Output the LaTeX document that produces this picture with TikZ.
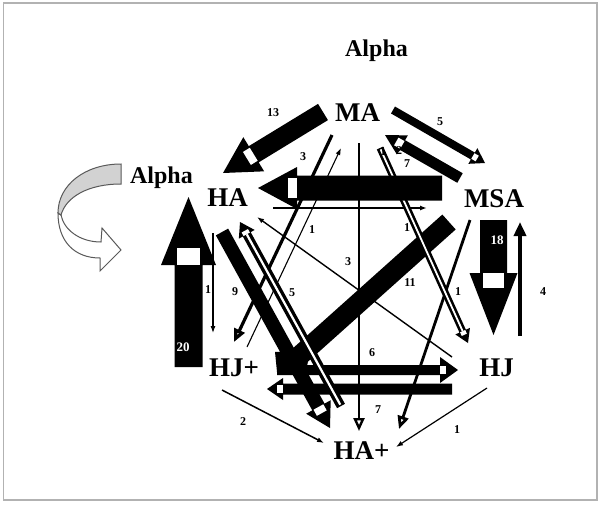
\documentclass[tikz,border=0pt]{standalone}
\usepackage{fontspec}
\setmainfont{Liberation Serif}
\usetikzlibrary{calc,arrows.meta}
% fat block arrow: #1 start, #2 tip, #3 half shaft, #4 half head, #5 head length, #6 white notch length
\newcommand\fatarr[6]{%
  \coordinate (fa-hb) at ($(#2)!#5pt!(#1)$);
  \coordinate (fa-wb) at ($(fa-hb)!#6pt!(#2)$);
  \pgfmathsetmacro\fawr{#3*0.8}%
  \fill[black] ($(#1)!#3pt!90:(#2)$) -- ($(fa-hb)!#3pt!90:(#2)$) -- ($(fa-hb)!#4pt!90:(#2)$) -- (#2)
     -- ($(fa-hb)!#4pt!-90:(#2)$) -- ($(fa-hb)!#3pt!-90:(#2)$) -- ($(#1)!#3pt!-90:(#2)$) -- cycle;
  \fill[white] ($(fa-hb)!\fawr pt!90:(#2)$) -- ($(fa-wb)!\fawr pt!90:(#2)$) -- ($(fa-wb)!\fawr pt!-90:(#2)$) -- ($(fa-hb)!\fawr pt!-90:(#2)$) -- cycle;
}
\begin{document}
\begin{tikzpicture}[x=1pt,y=-1pt,
  lbl/.style={font=\bfseries\fontsize{27}{27}\selectfont, inner sep=0pt, anchor=base},
  ttl/.style={font=\bfseries\fontsize{24}{24}\selectfont, inner sep=0pt, anchor=base},
  num/.style={font=\bfseries\fontsize{12}{12}\selectfont, inner sep=0pt},
  wnum/.style={num, text=white, font=\bfseries\fontsize{13}{13}\selectfont},
  thin/.style={draw=black, line width=1.3pt, -{Latex[length=7pt,width=5pt]}},
  opn/.style={draw=black, -{Triangle[open,length=13pt,width=11pt]}},
  curv/.style={draw=gray!70!black, line width=1pt}]
\useasboundingbox (0,0) rectangle (601,504);
\fill[white] (0,0) rectangle (601,504);
\draw[gray!60, line width=1.5pt] (3.5,3) rectangle (597,500);

% names
\node[ttl] (title) at (376.5,56) {Alpha};
\node[ttl] (alpha) at (161.5,183) {Alpha};
\node[lbl] (MA) at (357.5,121) {MA};
\node[lbl] (HA) at (227.5,206) {HA};
\node[lbl] (MSA) at (494,207) {MSA};
\node[lbl] (HJp) at (234,376) {HJ+};
\node[lbl] (HJ) at (496.5,376) {HJ};
\begin{scope}
\clip (0,0) rectangle (601,461);
\node[lbl] (HAp) at (361.5,459) {HA+};
\end{scope}

% curved arrow
\draw[curv, fill=white] (58,213) .. controls (58,242) and (75,258) .. (100,258) -- (100,271) -- (121,250) -- (102,228) -- (101,242) .. controls (80,242) and (64,230) .. (61,215) -- cycle;
\draw[curv, fill=gray!35] (121,164) .. controls (85,164) and (58,185) .. (58,213) -- (61,215) .. controls (66,197) and (88,184) .. (121,184) -- cycle;

% coordinates
\coordinate (hamS) at (273,208);  \coordinate (hamT) at (427,208);
\coordinate (vS) at (359,143);    \coordinate (vT) at (359,431);
\coordinate (mhS) at (332,135);   \coordinate (mhT) at (234,342);
\coordinate (hmS) at (247,347);   \coordinate (hmT) at (341,148);
\coordinate (hhS) at (213,233);   \coordinate (hhT) at (213,333);
\coordinate (jmS) at (520,336);   \coordinate (jmT) at (520,222);
\coordinate (mhpS) at (470,220);  \coordinate (mhpT) at (399,429);
\coordinate (jaS) at (452,357);   \coordinate (jaT) at (257,217);
\coordinate (jpS) at (222,390);   \coordinate (jpT) at (324,443);
\coordinate (jhS) at (487,388);   \coordinate (jhT) at (396,447);
\coordinate (sixS) at (277,370);  \coordinate (sixT) at (458,370);
\coordinate (svnS) at (452,389);  \coordinate (svnT) at (267,389);
\coordinate (bandS) at (449,222); \coordinate (bandT) at (297,358);
\coordinate (nineS) at (222,232); \coordinate (nineT) at (330,428);
\coordinate (fiveS) at (341,406); \coordinate (fiveT) at (240,222);
\coordinate (elS) at (380,148);   \coordinate (elT) at (468,343);
\coordinate (bigS) at (442,188);  \coordinate (bigT) at (258,188);
\coordinate (tS) at (323,112);    \coordinate (tT) at (223,173);
\coordinate (mmS) at (393,110);   \coordinate (mmT) at (485,163);
\coordinate (smS) at (460,178);   \coordinate (smT) at (385,135);
\coordinate (twS) at (188.5,367); \coordinate (twT) at (188.5,197);
\coordinate (etS) at (493.5,220); \coordinate (etT) at (493.5,335);

% thin connectors
\draw[thin, line width=1.5pt] (hamS) -- (hamT);
\draw[thin, line width=1.1pt] (hmS) -- (hmT);
\draw[thin, line width=1.1pt] (hhS) -- (hhT);
\draw[thin, line width=1.4pt] (jaS) -- (jaT);
\draw[thin, line width=1.5pt] (jpS) -- (jpT);
\draw[thin, line width=1.2pt] (jhS) -- (jhT);
\draw[line width=3.5pt, -{Triangle[length=14pt,width=12pt]}] (jmS) -- (jmT);
\draw[opn, line width=2.4pt] (vS) -- (vT);
\draw[opn, line width=3.2pt] (mhS) -- (mhT);
\draw[opn, line width=2.8pt] (mhpS) -- (mhpT);

% horizontal bars 6 and 7
\fatarr{sixS}{sixT}{5}{13}{18}{6}
\fatarr{svnS}{svnT}{5.5}{11}{16}{6}
% heavy band MSA to HJ+
\draw[black, line width=20pt] (bandS) -- (bandT);
\fill[black] (275,352) -- (310,350) -- (306,372) -- (277,372) -- cycle;
% HA to HA+
\fatarr{nineS}{nineT}{7}{14}{24}{7}
% hollow HA+ to HA
\fatarr{fiveS}{fiveT}{4.5}{9}{14}{4}
\draw[white, line width=2.2pt] ($(fiveS)!1.5pt!(fiveT)$) -- (fa-hb);
% hollow MA to HJ
\fatarr{elS}{elT}{3.5}{8}{13}{4}
\draw[white, line width=1.8pt] ($(elS)!1.5pt!(elT)$) -- (fa-hb);
% big MSA to HA
\fatarr{bigS}{bigT}{12.5}{21}{39}{9}
% MA to HA (13)
\fatarr{tS}{tT}{9.5}{20}{36}{8}
% MA to MSA (5)
\fatarr{mmS}{mmT}{4}{9}{14}{5}
% MSA to MA
\fatarr{smS}{smT}{5.5}{11}{20}{7}
% HJ+ to HA (20)
\fatarr{twS}{twT}{14}{27.5}{68}{17}
% MSA to HJ (18)
\fatarr{etS}{etT}{13.5}{24}{62}{15}

% numbers
\node[num] (n13) at (273,113) {13};
\node[num] (n5a) at (440,122) {5};
\node[num] (n3a) at (303,157) {3};
\node[num] (n1a) at (383,152) {1};
\node[num] (n2a) at (399,151) {2};
\node[num] (n7a) at (407,164) {7};
\node[num] (n1b) at (312,230) {1};
\node[num] (n1c) at (407,228) {1};
\node[num] (n1d) at (208,290) {1};
\node[num] (n9) at (235,292) {9};
\node[num] (n5b) at (292,293) {5};
\node[num] (n3b) at (348,262) {3};
\node[num] (n11) at (410,283) {11};
\node[num] (n1e) at (458,292) {1};
\node[num] (n4) at (543,292) {4};
\node[num] (n6) at (372,353) {6};
\node[num] (n7b) at (378,410) {7};
\node[num] (n2b) at (243,422) {2};
\node[num] (n1f) at (457,430) {1};
\node[wnum] (n20) at (183,347) {20};
\node[wnum] (n18) at (497,240) {18};
\end{tikzpicture}
\end{document}
